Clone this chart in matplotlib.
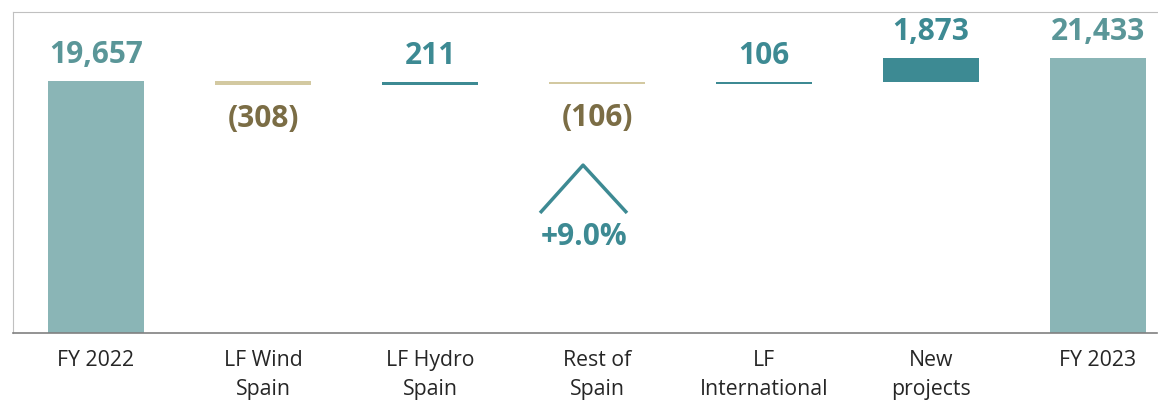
import numpy as np
import matplotlib.pyplot as plt

categories = ["FY 2022", "LF Wind\nSpain", "LF Hydro\nSpain", "Rest of\nSpain",
              "LF\nInternational", "New\nprojects", "FY 2023"]
values = np.array([19657, -308, 211, -106, 106, 1873, 21433])
kinds = ["total", "delta", "delta", "delta", "delta", "delta", "total"]
labels = ["19,657", "(308)", "211", "(106)", "106", "1,873", "21,433"]
growth_label = "+9.0%"

c_total = "#8AB5B6"
c_total_txt = "#5A9698"
c_pos = "#3D8A93"
c_neg = "#D3C9A1"
c_neg_txt = "#7B6D45"

plt.rcParams['font.family'] = ['Open Sans', 'DejaVu Sans']

fig = plt.figure(figsize=(11.58, 4.03), dpi=100)
ax = fig.add_axes([13 / 1158, 70 / 403, 1144 / 1158, 321 / 403])

x = np.arange(len(categories))
running = 0
for i, (v, k) in enumerate(zip(values, kinds)):
    if k == "total":
        bottom, height = 0, v
        color, tcolor = c_total, c_total_txt
        running = v
    else:
        bottom = running if v >= 0 else running + v
        height = abs(v)
        color = c_pos if v >= 0 else c_neg
        tcolor = c_pos if v >= 0 else c_neg_txt
        running += v
    ax.bar(x[i], height, bottom=bottom, width=0.575, color=color, linewidth=0)
    if v >= 0 or k == "total":
        ax.annotate(labels[i], (x[i], bottom + height), xytext=(0, 8),
                    textcoords="offset points", ha="center", va="bottom",
                    fontsize=21.5, fontweight="bold", color=tcolor)
    else:
        ax.annotate(labels[i], (x[i], bottom), xytext=(0, -14),
                    textcoords="offset points", ha="center", va="top",
                    fontsize=21.5, fontweight="bold", color=tcolor)

# growth chevron
ax.plot([0.4607, 0.4983, 0.5367], [0.374, 0.523, 0.374], transform=ax.transAxes,
        color=c_pos, lw=2.5, solid_capstyle="butt", clip_on=False)
ax.text(0.4995, 0.30, growth_label, transform=ax.transAxes, ha="center",
        va="center", fontsize=21.5, fontweight="bold", color=c_pos)

ax.set_xlim(-0.497, 6.353)
ax.set_ylim(0, 25040)
ax.set_xticks(x)
ax.set_xticklabels(categories, fontsize=15.3, color="#262626", linespacing=1.55)
ax.tick_params(axis="x", length=0, pad=12)
ax.set_yticks([])
ax.spines["right"].set_visible(False)
ax.spines["top"].set_color("#C0C0C0")
ax.spines["left"].set_color("#C0C0C0")
ax.spines["bottom"].set_color("#808080")
ax.spines["bottom"].set_linewidth(1.2)

fig.savefig("out.png", dpi=100)
